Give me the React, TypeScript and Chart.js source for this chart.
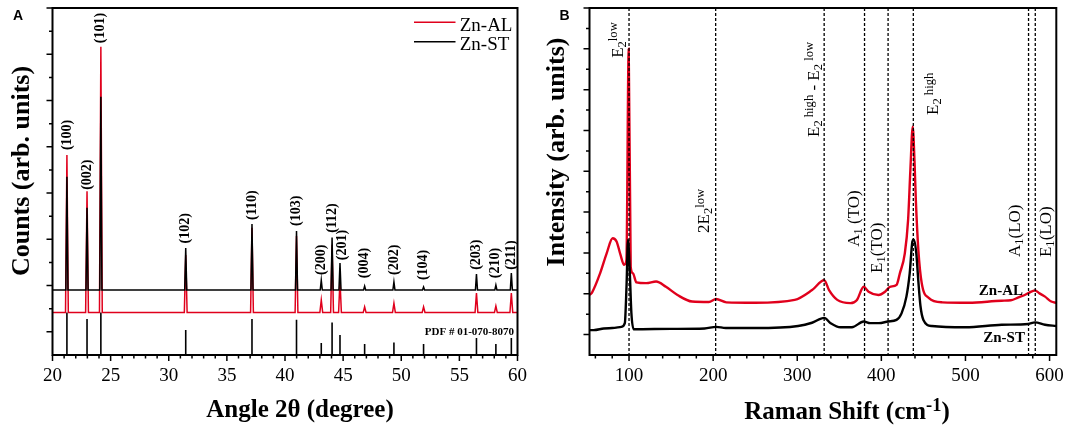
import React, { useEffect, useRef } from "react";
import { Chart, registerables } from "chart.js";

Chart.register(...registerables);

const SERIF = "'Liberation Serif', 'Times New Roman', Times, serif";
const SANS = "'Liberation Sans', Arial, Helvetica, sans-serif";
const RED = "#e0001c";
const BLACK = "#000000";

// ---------------- Panel A : XRD ----------------
const xrdHkl = ["(100)", "(002)", "(101)", "(102)", "(110)", "(103)", "(200)", "(112)", "(201)", "(004)", "(202)", "(104)", "(203)", "(210)", "(211)"];
const xrdPos = [21.24, 22.97, 24.16, 31.46, 37.16, 40.99, 43.12, 44.05, 44.73, 46.85, 49.37, 51.92, 56.47, 58.14, 59.47];
const znStXrd = [3.35, 2.68, 5.08, 1.81, 2.33, 2.18, 1.12, 2.04, 1.49, 0.99, 1.08, 0.97, 1.25, 1.01, 1.27];
const znAlXrd = [3.82, 3.04, 6.16, 1.66, 2.25, 2.07, 0.69, 1.88, 1.12, 0.54, 0.62, 0.54, 0.84, 0.56, 0.84];
const pdfRef = [0.42, 0.28, 0.42, 0.04, 0.28, 0.26, -0.24, 0.2, -0.07, -0.26, -0.23, -0.26, -0.13, -0.26, -0.13];
const hklLabelX = [21.24, 22.97, 24.16, 31.46, 37.16, 40.99, 43.12, 44.1, 44.9, 46.85, 49.37, 51.92, 56.47, 58.14, 59.47];
const hklLabelY = [3.93, 3.07, 6.24, 1.91, 2.42, 2.29, 1.23, 2.14, 1.55, 1.16, 1.23, 1.12, 1.34, 1.16, 1.34];
const xrdBaseSt = 0.905;
const xrdBaseAl = 0.42;
const xrdBasePdf = -0.5;
const xrdXTicks = [20, 25, 30, 35, 40, 45, 50, 55, 60];
const xrdYTicks = [0, 1, 2, 3, 4, 5, 6, 7];
const xrdLegend = ["Zn-AL", "Zn-ST"];
const pdfCard = "PDF # 01-070-8070";

// ---------------- Panel B : Raman ----------------
const ramanAlX = [53, 56, 65.6, 73.4, 80.5, 85.2, 89.9, 94.1, 96.9, 99.6, 102, 104.7, 108.7, 120.4, 132.2, 143.9, 157.6, 174.9, 195, 203.5, 215.7, 250, 297, 317.6, 332, 337.8, 347.6, 363.2, 371, 379, 384.8, 396.6, 404.4, 410.2, 418.1, 422, 427.9, 431.8, 434.5, 437.3, 439.5, 441, 444, 448, 456.3, 472.6, 504, 543, 554, 563, 570.5, 576, 582.6, 588, 594.6, 602, 608];
const ramanAlY = [0.97, 1.03, 1.5, 1.99, 2.36, 2.28, 1.95, 1.71, 1.83, 7.0, 1.66, 1.5, 1.28, 1.26, 1.3, 1.17, 0.97, 0.81, 0.8, 0.87, 0.79, 0.78, 0.85, 1.09, 1.33, 1.09, 0.85, 0.77, 0.85, 1.17, 1.05, 0.97, 1.05, 1.17, 1.22, 1.5, 1.99, 2.81, 4.03, 5.09, 4.2, 3.3, 2.07, 1.26, 0.9, 0.79, 0.78, 0.83, 0.84, 0.91, 0.97, 1.03, 1.08, 1.01, 0.93, 0.81, 0.78];
const ramanStX = [53, 58, 70, 80, 91, 95, 97, 98.8, 100.8, 102.8, 105.5, 150, 190, 203.5, 215, 250, 301, 317.6, 332, 339.7, 351.5, 365, 379, 386.7, 397, 408, 418, 424, 429.8, 433.7, 436.9, 438.5, 441.5, 444, 446.5, 450, 460, 500, 543, 574.7, 582.6, 594.6, 608];
const ramanStY = [0.11, 0.11, 0.15, 0.16, 0.19, 0.28, 1.17, 2.32, 1.58, 0.53, 0.13, 0.14, 0.15, 0.19, 0.16, 0.16, 0.21, 0.29, 0.41, 0.28, 0.18, 0.18, 0.32, 0.28, 0.28, 0.32, 0.36, 0.52, 0.93, 1.5, 2.28, 2.33, 2.0, 1.3, 0.7, 0.36, 0.21, 0.18, 0.24, 0.26, 0.3, 0.24, 0.21];
const modeX = [100, 203, 332, 380, 408, 438, 575, 583];
const modeLabelX = [92.6, 195.4, 325.3, 372.9, 400.4, 467.5, 565, 602];
const modeLabelY = [6.78, 2.49, 4.84, 2.15, 1.51, 5.38, 1.9, 1.9];
type Run = [string, number];
const modeLabelRuns: Run[][] = [
  [["E", 0], ["2", -1], ["low", 1]],
  [["2E", 0], ["2", -1], ["low", 1]],
  [["E", 0], ["2", -1], [" high", 1], [" - E", 0], ["2", -1], [" low", 1]],
  [["A", 0], ["1", -1], [" (TO)", 0]],
  [["E", 0], ["1", -1], ["(TO)", 0]],
  [["E", 0], ["2", -1], [" high", 1]],
  [["A", 0], ["1", -1], ["(LO)", 0]],
  [["E", 0], ["1", -1], ["(LO)", 0]],
];
const sampleNames = ["Zn-AL", "Zn-ST"];
const sampleLabelX = [568.4, 570.7];
const sampleLabelY = [0.97, -0.18];
const ramanXTicks = [100, 200, 300, 400, 500, 600];
const ramanYTicks = [0, 1, 2, 3, 4, 5, 6, 7, 8];

// ---------------- helpers ----------------
function peakLine(pos: number[], h: number[], base: number, hw: number, xmin: number, xmax: number) {
  const pts: { x: number; y: number }[] = [{ x: xmin, y: base }];
  pos.forEach((p, i) => {
    pts.push({ x: p - hw, y: base }, { x: p, y: h[i] }, { x: p + hw, y: base });
  });
  pts.push({ x: xmax, y: base });
  return pts;
}

function sticks(pos: number[], h: number[], base: number) {
  const pts: { x: number; y: number | null }[] = [];
  pos.forEach((p, i) => {
    pts.push({ x: p, y: base }, { x: p, y: h[i] }, { x: p, y: null });
  });
  return pts;
}

function drawRuns(ctx: CanvasRenderingContext2D, x: number, y: number, runs: Run[], size: number, weight: string, rotate: boolean, align: string) {
  const small = size * 0.74;
  const widths = runs.map(([t, m]) => {
    ctx.font = `${weight} ${m === 0 ? size : small}px ${SERIF}`;
    return ctx.measureText(t).width;
  });
  const total = widths.reduce((a, b) => a + b, 0);
  let cx = align === "left" ? 0 : align === "center" ? -total / 2 : -total;
  ctx.save();
  ctx.translate(x, y);
  if (rotate) ctx.rotate(-Math.PI / 2);
  ctx.textAlign = "left";
  ctx.textBaseline = "alphabetic";
  ctx.fillStyle = "#000";
  runs.forEach(([t, m], i) => {
    ctx.font = `${weight} ${m === 0 ? size : small}px ${SERIF}`;
    const dy = m === -1 ? size * 0.19 : m === 1 ? -size * 0.33 : 0;
    ctx.fillText(t, cx, dy);
    cx += widths[i];
  });
  ctx.restore();
}

function drawRotatedCentered(ctx: CanvasRenderingContext2D, text: string, x: number, y: number, font: string) {
  ctx.save();
  ctx.translate(x, y);
  ctx.rotate(-Math.PI / 2);
  ctx.font = font;
  ctx.textAlign = "center";
  ctx.textBaseline = "middle";
  ctx.fillStyle = "#000";
  ctx.fillText(text, 0, 0);
  ctx.restore();
}

function range(a: number, b: number, step: number, skip: number) {
  const out: number[] = [];
  for (let v = a; v <= b + 1e-9; v += step) {
    const r = Math.round(v * 1000) / 1000;
    if (Math.abs(r / skip - Math.round(r / skip)) > 1e-6) out.push(r);
  }
  return out;
}

function drawFrameAndTicks(chart: any, xMajor: number[], xMinor: number[], yMajor: number[], yMinor: number[]) {
  const { ctx, chartArea } = chart;
  const { left, right, top, bottom } = chartArea;
  const xs = chart.scales.x;
  const ys = chart.scales.y;
  ctx.save();
  ctx.strokeStyle = "#000";
  ctx.setLineDash([]);
  ctx.lineWidth = 1.5;
  ctx.beginPath();
  xMajor.forEach((v) => {
    const p = xs.getPixelForValue(v);
    ctx.moveTo(p, bottom);
    ctx.lineTo(p, bottom + 6);
  });
  xMinor.forEach((v) => {
    const p = xs.getPixelForValue(v);
    ctx.moveTo(p, bottom);
    ctx.lineTo(p, bottom + 3.5);
  });
  yMajor.forEach((v) => {
    const p = ys.getPixelForValue(v);
    ctx.moveTo(left, p);
    ctx.lineTo(left - 6, p);
  });
  yMinor.forEach((v) => {
    const p = ys.getPixelForValue(v);
    ctx.moveTo(left, p);
    ctx.lineTo(left - 3.5, p);
  });
  ctx.stroke();
  ctx.lineWidth = 2;
  ctx.strokeRect(left, top, right - left, bottom - top);
  ctx.restore();
}

const baseScales = (xmin: number, xmax: number, ymin: number, ymax: number, xticks: number[]) => ({
  x: {
    type: "linear" as const,
    min: xmin,
    max: xmax,
    grid: { display: false, drawTicks: false },
    border: { display: false },
    afterBuildTicks: (s: any) => {
      s.ticks = xticks.map((v) => ({ value: v }));
    },
    afterFit: (s: any) => {
      s.height = 85;
    },
    ticks: { font: { family: SERIF, size: 19 }, color: "#000", padding: 10, maxRotation: 0, autoSkip: false },
  },
  y: {
    type: "linear" as const,
    min: ymin,
    max: ymax,
    grid: { display: false, drawTicks: false },
    border: { display: false },
    ticks: { display: false },
    afterFit: (s: any) => {
      s.width = 52.5;
    },
  },
});

function configA(): any {
  const plugin = {
    id: "xrdDecor",
    afterDraw(chart: any) {
      const { ctx, chartArea } = chart;
      const xs = chart.scales.x;
      const ys = chart.scales.y;
      drawFrameAndTicks(chart, xrdXTicks, range(20, 60, 1, 5), xrdYTicks, range(0.5, 6.5, 1, 1));
      // hkl labels
      ctx.save();
      ctx.fillStyle = "#000";
      ctx.font = `bold 14px ${SERIF}`;
      xrdHkl.forEach((t, i) => {
        ctx.save();
        ctx.translate(xs.getPixelForValue(hklLabelX[i]), ys.getPixelForValue(hklLabelY[i]));
        ctx.rotate(-Math.PI / 2);
        ctx.textAlign = "left";
        ctx.textBaseline = "middle";
        ctx.fillText(t, 0, 0);
        ctx.restore();
      });
      // PDF card
      ctx.font = `bold 11px ${SERIF}`;
      ctx.textAlign = "right";
      ctx.textBaseline = "alphabetic";
      ctx.fillText(pdfCard, chartArea.right - 3.5, ys.getPixelForValue(-0.07));
      // legend
      const lx0 = chartArea.right - 103.5;
      const lx1 = chartArea.right - 62;
      [RED, BLACK].forEach((c, i) => {
        const yy = 22.3 + i * 19.4;
        ctx.strokeStyle = c;
        ctx.lineWidth = 1.6;
        ctx.beginPath();
        ctx.moveTo(lx0, yy);
        ctx.lineTo(lx1, yy);
        ctx.stroke();
        ctx.font = `19px ${SERIF}`;
        ctx.textAlign = "left";
        ctx.fillStyle = "#000";
        ctx.fillText(xrdLegend[i], lx1 + 4.2, 30.7 + i * 18.8);
      });
      // titles
      ctx.font = `bold 25px ${SERIF}`;
      ctx.textAlign = "center";
      ctx.textBaseline = "middle";
      ctx.fillText("Angle 2\u03b8 (degree)", 300, 411);
      drawRotatedCentered(ctx, "Counts (arb. units)", 22, 171, `bold 26px ${SERIF}`);
      // panel letter
      ctx.font = `bold 14px ${SANS}`;
      ctx.textAlign = "left";
      ctx.textBaseline = "alphabetic";
      ctx.fillText("A", 13, 20);
      ctx.restore();
    },
  };
  return {
    type: "line",
    data: {
      datasets: [
        { label: "Zn-ST", data: peakLine(xrdPos, znStXrd, xrdBaseSt, 0.09, 20, 60), borderColor: BLACK, borderWidth: 1.5, pointRadius: 0, order: 0 },
        { label: "Zn-AL", data: peakLine(xrdPos, znAlXrd, xrdBaseAl, 0.12, 20, 60), borderColor: RED, borderWidth: 1.5, pointRadius: 0, order: 1 },
        { label: pdfCard, data: sticks(xrdPos, pdfRef, xrdBasePdf), borderColor: BLACK, borderWidth: 1.6, pointRadius: 0, order: 2, spanGaps: false },
      ],
    },
    options: {
      responsive: false,
      devicePixelRatio: 1,
      animation: false,
      layout: { padding: { left: 0, right: 12.5, top: 8, bottom: 0 } },
      plugins: { legend: { display: false }, tooltip: { enabled: false } },
      scales: baseScales(20, 60, -0.5, 7, xrdXTicks),
    },
    plugins: [plugin],
  };
}

function configB(): any {
  const plugin = {
    id: "ramanDecor",
    afterDraw(chart: any) {
      const { ctx, chartArea } = chart;
      const xs = chart.scales.x;
      const ys = chart.scales.y;
      // dashed mode lines
      ctx.save();
      ctx.strokeStyle = "#000";
      ctx.lineWidth = 1.3;
      ctx.setLineDash([3, 2]);
      ctx.beginPath();
      modeX.forEach((m) => {
        const p = xs.getPixelForValue(m);
        ctx.moveTo(p, chartArea.top);
        ctx.lineTo(p, chartArea.bottom);
      });
      ctx.stroke();
      ctx.restore();
      drawFrameAndTicks(chart, ramanXTicks, range(60, 600, 20, 100), ramanYTicks, range(0.5, 7.5, 1, 1));
      ctx.save();
      modeLabelRuns.forEach((runs, i) => {
        drawRuns(ctx, xs.getPixelForValue(modeLabelX[i]), ys.getPixelForValue(modeLabelY[i]), runs, 17, "normal", true, "left");
      });
      ctx.fillStyle = "#000";
      ctx.font = `bold 15px ${SERIF}`;
      ctx.textAlign = "right";
      ctx.textBaseline = "alphabetic";
      sampleNames.forEach((n, i) => {
        ctx.fillText(n, xs.getPixelForValue(sampleLabelX[i]), ys.getPixelForValue(sampleLabelY[i]));
      });
      drawRuns(ctx, 310, 419, [["Raman Shift (cm", 0], ["-1", 1], [")", 0]], 25, "bold", false, "center");
      drawRotatedCentered(ctx, "Intensity (arb. units)", 20, 152, `bold 26px ${SERIF}`);
      ctx.font = `bold 14px ${SANS}`;
      ctx.textAlign = "left";
      ctx.fillText("B", 22.5, 20);
      ctx.restore();
    },
  };
  return {
    type: "line",
    data: {
      datasets: [
        { label: "Zn-ST", data: ramanStX.map((x, i) => ({ x, y: ramanStY[i] })), borderColor: BLACK, borderWidth: 2.4, pointRadius: 0, cubicInterpolationMode: "monotone", order: 0 },
        { label: "Zn-AL", data: ramanAlX.map((x, i) => ({ x, y: ramanAlY[i] })), borderColor: RED, borderWidth: 2.4, pointRadius: 0, cubicInterpolationMode: "monotone", order: 1 },
      ],
    },
    options: {
      responsive: false,
      devicePixelRatio: 1,
      animation: false,
      layout: { padding: { left: 0, right: 12.5, top: 8, bottom: 0 } },
      plugins: { legend: { display: false }, tooltip: { enabled: false } },
      scales: baseScales(53, 608, -0.5, 8, ramanXTicks),
    },
    plugins: [plugin],
  };
}

export default function App() {
  const refA = useRef<HTMLCanvasElement>(null);
  const refB = useRef<HTMLCanvasElement>(null);
  useEffect(() => {
    const a = new Chart(refA.current as HTMLCanvasElement, configA());
    const b = new Chart(refB.current as HTMLCanvasElement, configB());
    return () => {
      a.destroy();
      b.destroy();
    };
  }, []);
  return (
    <div style={{ position: "absolute", left: 0, top: 0, width: 1074, height: 440, background: "#fff", overflow: "hidden" }}>
      <canvas ref={refA} width={537} height={440} style={{ position: "absolute", left: 0, top: 0, width: 537, height: 440 }} />
      <canvas ref={refB} width={537} height={440} style={{ position: "absolute", left: 537, top: 0, width: 537, height: 440 }} />
    </div>
  );
}
